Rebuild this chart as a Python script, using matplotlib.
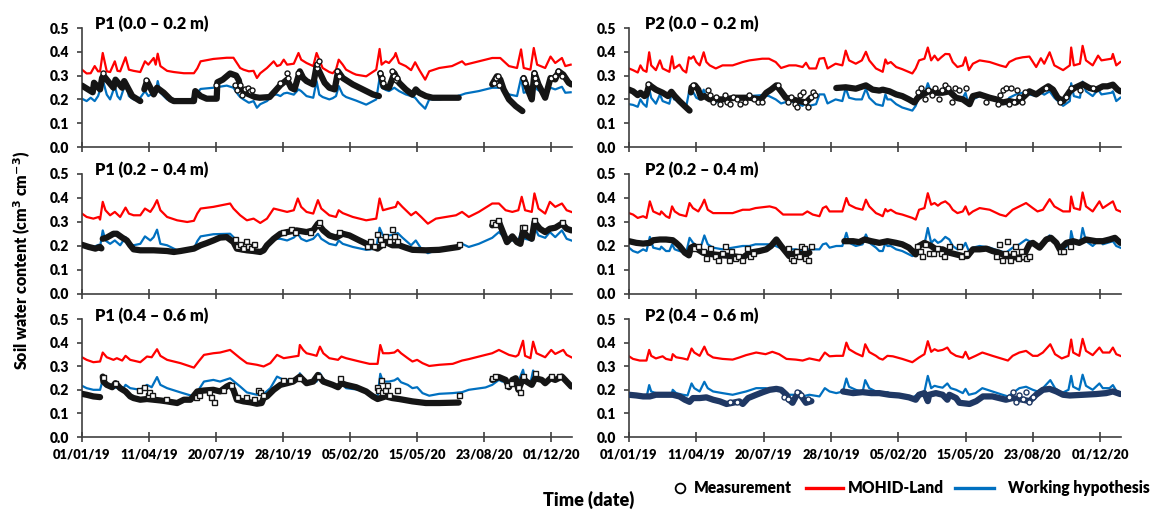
import numpy as np
import matplotlib
matplotlib.use("Agg")
import matplotlib.pyplot as plt
from matplotlib.lines import Line2D

plt.rcParams['font.family'] = ['Lato', 'DejaVu Sans']
plt.rcParams['font.weight'] = 'heavy'

nan = np.nan

# x axis: days since 01/01/19
tick_days = [0, 100, 200, 300, 400, 500, 600, 700]
tick_labels = ["01/01/19", "11/04/19", "20/07/19", "28/10/19",
               "05/02/20", "15/05/20", "23/08/20", "01/12/20"]
y_ticks = [0.0, 0.1, 0.2, 0.3, 0.4, 0.5]

titles = ["P1 (0.0 – 0.2 m)", "P1 (0.2 – 0.4 m)", "P1 (0.4 – 0.6 m)",
          "P2 (0.0 – 0.2 m)", "P2 (0.2 – 0.4 m)", "P2 (0.4 – 0.6 m)"]
legend_labels = ["Measurement", "MOHID-Land", "Working hypothesis"]

# ---------------- P1 0.0-0.2 m ----------------
p1a_day = [0, 7, 13, 19, 24, 27, 31, 37, 42, 49,
           53, 57, 65, 70, 77, 87, 94, 99, 107, 110,
           113, 117, 127, 137, 152, 162, 167, 172, 177, 196,
           216, 226, 233, 236, 241, 249, 256, 261, 266, 276,
           286, 291, 296, 301, 306, 316, 323, 327, 335, 345,
           350, 354, 359, 369, 374, 379, 383, 389, 394, 404,
           409, 424, 439, 444, 447, 453, 458, 466, 468, 473,
           483, 491, 497, 503, 512, 518, 533, 552, 567, 572,
           592, 612, 624, 637, 649, 655, 659, 669, 674, 679,
           691, 699, 706, 716, 721, 729]
p1a_mohid = [0.325, 0.309, 0.31, 0.34, 0.318, 0.318, 0.395, 0.318, 0.315, 0.36,
             0.32, 0.318, 0.377, 0.325, 0.32, 0.315, 0.36, 0.346, 0.374, 0.346,
             0.392, 0.34, 0.32, 0.315, 0.31, 0.31, 0.31, 0.33, 0.36, 0.37,
             0.375, 0.375, 0.345, 0.332, 0.325, 0.318, 0.32, 0.29, 0.31, 0.332,
             0.36, 0.34, 0.345, 0.367, 0.346, 0.35, 0.395, 0.367, 0.353, 0.34,
             0.395, 0.367, 0.332, 0.315, 0.31, 0.325, 0.367, 0.346, 0.325, 0.31,
             0.304, 0.297, 0.325, 0.412, 0.346, 0.36, 0.353, 0.38, 0.395, 0.353,
             0.34, 0.323, 0.356, 0.325, 0.283, 0.318, 0.332, 0.34, 0.36, 0.346,
             0.36, 0.374, 0.374, 0.34, 0.332, 0.41, 0.332, 0.325, 0.416, 0.346,
             0.332, 0.38, 0.353, 0.374, 0.34, 0.346]
p1a_hyp = [0.203, 0.193, 0.207, 0.193, 0.214, 0.24, 0.283, 0.22, 0.2, 0.256,
           0.214, 0.2, 0.27, 0.214, 0.2, 0.207, 0.235, 0.214, 0.228, 0.23,
           0.277, 0.228, 0.2, 0.193, 0.193, 0.2, 0.21, 0.228, 0.244, 0.249,
           0.258, 0.249, 0.22, 0.21, 0.2, 0.186, 0.193, 0.165, 0.18, 0.193,
           0.22, 0.22, 0.214, 0.225, 0.228, 0.22, 0.242, 0.235, 0.214, 0.207,
           0.277, 0.22, 0.21, 0.2, 0.205, 0.214, 0.256, 0.22, 0.21, 0.2,
           0.195, 0.178, 0.2, 0.29, 0.25, 0.24, 0.235, 0.249, 0.245, 0.235,
           0.221, 0.214, 0.207, 0.186, 0.161, 0.2, 0.2, 0.207, 0.22, 0.225,
           0.235, 0.249, 0.249, 0.221, 0.214, 0.29, 0.228, 0.235, 0.29, 0.242,
           0.221, 0.249, 0.242, 0.253, 0.228, 0.23]
p1a_obs_day = [0, 16, 18, 27, 30, 32, 47, 50, 60, 63,
               75, 87, 89, 93, 97, 107, 112, 122, 132, 137,
               157, 167, 169, 177, 186, 201, 202, 210, 221, 230,
               234, 236, 242, 250, 258, 265, 280, 288, 296, 306,
               312, 317, 325, 330, 335, 345, 350, 355, 362, 369,
               377, 382, 389, 404, 419, 434, 443, 444, 445, 450,
               458, 466, 473, 483, 493, 498, 503, 513, 523, 562,
               563, 612, 619, 624, 629, 637, 647, 657, 658, 659,
               664, 671, 675, 681, 691, 699, 706, 711, 718, 726,
               730]
p1a_obs = [0.258, 0.23, 0.27, 0.242, 0.29, 0.3, 0.249, 0.283, 0.249, 0.277,
           0.214, 0.193, nan, 0.242, 0.277, 0.221, 0.249, 0.228, 0.2, 0.193,
           0.193, 0.193, 0.235, 0.214, 0.203, 0.203, 0.272, 0.283, 0.309, 0.3,
           0.28, 0.25, 0.23, 0.22, 0.21, 0.207, 0.21, 0.235, 0.26, 0.283,
           0.249, 0.242, 0.318, 0.29, 0.277, 0.263, 0.34, 0.311, 0.27, 0.249,
           0.242, 0.318, 0.29, 0.263, 0.242, 0.221, 0.214, nan, 0.31, 0.254,
           0.249, 0.31, 0.27, 0.242, 0.22, 0.242, 0.228, 0.214, 0.207, 0.207,
           nan, 0.263, 0.297, 0.284, 0.242, 0.2, 0.172, 0.151, nan, 0.29,
           0.249, 0.2, 0.311, 0.263, 0.207, 0.29, 0.284, 0.318, 0.304, 0.27,
           0.263]
p1a_pts_day = [31, 96, 200, 228, 232, 236, 239, 243, 247, 250,
               254, 296, 306, 308, 322, 350, 351, 353, 381, 383,
               445, 447, 449, 462, 465, 468, 470, 614, 617, 620,
               622, 658, 661, 674, 676, 678, 700, 705, 710, 716]
p1a_pts = [0.31, 0.28, 0.26, 0.26, 0.24, 0.26, 0.22, 0.245, 0.25, 0.235,
           0.24, 0.27, 0.31, 0.29, 0.31, 0.33, 0.35, 0.36, 0.32, 0.3,
           0.31, 0.29, 0.27, 0.32, 0.3, 0.28, 0.29, 0.27, 0.29, 0.3,
           0.26, 0.29, 0.27, 0.31, 0.29, 0.27, 0.29, 0.3, 0.32, 0.3]

# ---------------- P1 0.2-0.4 m ----------------
p1b_day = [0, 7, 17, 25, 27, 31, 35, 42, 49, 57,
           65, 70, 77, 87, 94, 102, 107, 112, 117, 127,
           142, 157, 167, 172, 177, 196, 221, 226, 236, 246,
           256, 266, 276, 286, 296, 306, 316, 322, 327, 335,
           345, 352, 357, 369, 379, 383, 389, 404, 424, 439,
           444, 449, 458, 468, 471, 478, 491, 498, 506, 516,
           528, 543, 558, 567, 577, 592, 612, 622, 632, 642,
           651, 656, 661, 671, 675, 681, 691, 698, 706, 716,
           723, 730]
p1b_mohid = [0.335, 0.321, 0.314, 0.321, 0.31, 0.384, 0.349, 0.328, 0.342, 0.321,
             0.36, 0.335, 0.328, 0.328, 0.356, 0.342, 0.363, 0.391, 0.349, 0.321,
             0.307, 0.3, 0.305, 0.335, 0.356, 0.363, 0.377, 0.356, 0.328, 0.307,
             0.314, 0.296, 0.314, 0.356, 0.349, 0.342, 0.349, 0.398, 0.363, 0.342,
             0.335, 0.391, 0.356, 0.328, 0.321, 0.349, 0.337, 0.321, 0.307, 0.314,
             0.398, 0.349, 0.356, 0.363, 0.384, 0.363, 0.328, 0.342, 0.321, 0.293,
             0.314, 0.321, 0.328, 0.342, 0.321, 0.342, 0.377, 0.377, 0.349, 0.342,
             0.349, 0.405, 0.349, 0.342, 0.419, 0.356, 0.335, 0.384, 0.363, 0.377,
             0.349, 0.342]
p1b_hyp = [0.203, 0.203, 0.196, 0.205, 0.196, 0.265, 0.223, 0.209, 0.223, 0.203,
           0.237, 0.209, 0.203, 0.209, 0.24, 0.223, 0.237, 0.268, 0.209, 0.203,
           0.182, 0.179, 0.189, 0.22, 0.24, 0.249, 0.251, 0.237, 0.203, 0.189,
           0.182, 0.179, 0.203, 0.23, 0.23, 0.223, 0.235, 0.251, 0.23, 0.22,
           0.23, 0.251, 0.23, 0.209, 0.203, 0.223, 0.209, 0.196, 0.184, 0.189,
           0.276, 0.244, 0.244, 0.249, 0.254, 0.235, 0.203, 0.223, 0.189, 0.17,
           0.182, 0.184, 0.193, 0.209, 0.196, 0.209, 0.234, 0.258, 0.23, 0.223,
           0.223, 0.265, 0.23, 0.223, 0.279, 0.244, 0.234, 0.258, 0.237, 0.265,
           0.23, 0.223]
p1b_obs_day = [0, 10, 20, 27, 29, 30, 31, 37, 47, 52,
               60, 67, 72, 77, 87, 107, 127, 137, 147, 157,
               167, 177, 186, 196, 206, 216, 226, 231, 246, 256,
               266, 271, 276, 286, 296, 306, 320, 335, 345, 352,
               360, 369, 379, 389, 399, 414, 429, 441, 453, 463,
               473, 483, 493, 513, 533, 562, 563, 612, 622, 627,
               634, 642, 649, 654, 658, 663, 671, 675, 683, 691,
               698, 706, 716, 723, 730]
p1b_obs = [0.205, 0.196, 0.189, 0.196, 0.19, nan, 0.23, 0.235, 0.251, 0.251,
           0.235, 0.223, 0.203, 0.186, 0.182, 0.182, 0.179, 0.175, 0.179, 0.184,
           0.189, 0.203, 0.212, 0.223, 0.235, 0.237, 0.216, 0.189, 0.182, 0.179,
           0.175, 0.182, 0.203, 0.23, 0.251, 0.258, 0.265, 0.258, 0.265, 0.293,
           0.265, 0.244, 0.235, 0.251, 0.244, 0.223, 0.203, 0.189, 0.216, 0.203,
           0.203, 0.193, 0.184, 0.182, 0.184, 0.196, nan, 0.286, 0.3, 0.265,
           0.216, 0.24, 0.216, 0.209, 0.265, 0.244, 0.23, 0.3, 0.272, 0.258,
           0.272, 0.276, 0.293, 0.272, 0.265]
p1b_pts_day = [228, 232, 236, 240, 244, 248, 252, 256, 300, 312,
               318, 340, 352, 353, 383, 425, 430, 435, 440, 445,
               448, 452, 458, 462, 466, 470, 562, 612, 616, 620,
               656, 660, 675, 716]
p1b_pts = [0.23, 0.2, 0.21, 0.19, 0.22, 0.2, 0.19, 0.21, 0.26, 0.27,
           0.26, 0.26, 0.29, 0.3, 0.26, 0.2, 0.22, 0.2, 0.25, 0.23,
           0.21, 0.24, 0.22, 0.27, 0.24, 0.22, 0.21, 0.3, 0.29, 0.31,
           0.28, 0.28, 0.31, 0.3]

# ---------------- P1 0.4-0.6 m ----------------
p1c_day = [0, 7, 17, 27, 31, 37, 47, 52, 60, 65,
           72, 87, 97, 104, 112, 117, 127, 147, 167, 174,
           182, 196, 206, 221, 236, 246, 261, 271, 281, 291,
           301, 316, 323, 325, 330, 335, 345, 350, 355, 360,
           369, 382, 387, 394, 414, 429, 441, 445, 449, 458,
           466, 471, 476, 486, 493, 500, 508, 518, 533, 553,
           567, 577, 602, 612, 622, 627, 637, 647, 651, 658,
           661, 669, 673, 678, 691, 700, 706, 718, 723, 730]
p1c_mohid = [0.338, 0.327, 0.317, 0.32, 0.358, 0.338, 0.327, 0.334, 0.324, 0.344,
             0.327, 0.317, 0.341, 0.338, 0.372, 0.344, 0.327, 0.313, 0.294, 0.32,
             0.348, 0.355, 0.358, 0.369, 0.334, 0.313, 0.306, 0.299, 0.313, 0.348,
             0.334, 0.341, 0.344, 0.39, 0.369, 0.355, 0.348, 0.344, 0.383, 0.355,
             0.334, 0.327, 0.341, 0.334, 0.32, 0.31, 0.31, 0.39, 0.355, 0.355,
             0.358, 0.369, 0.355, 0.334, 0.32, 0.327, 0.313, 0.301, 0.306, 0.31,
             0.324, 0.33, 0.348, 0.355, 0.369, 0.362, 0.348, 0.341, 0.348, 0.408,
             0.344, 0.334, 0.404, 0.355, 0.338, 0.369, 0.352, 0.369, 0.348, 0.338]
p1c_hyp = [0.217, 0.207, 0.2, 0.2, 0.242, 0.214, 0.207, 0.21, 0.197, 0.221,
           0.207, 0.2, 0.221, 0.211, 0.254, 0.221, 0.207, 0.189, 0.172, 0.2,
           0.235, 0.242, 0.235, 0.249, 0.214, 0.189, 0.179, 0.182, 0.207, 0.256,
           0.242, 0.242, 0.245, 0.27, 0.25, 0.235, 0.235, 0.235, 0.27, 0.245,
           0.228, 0.214, 0.228, 0.207, 0.2, 0.186, 0.172, 0.268, 0.235, 0.235,
           0.24, 0.249, 0.232, 0.221, 0.207, 0.211, 0.186, 0.175, 0.183, 0.186,
           0.19, 0.2, 0.21, 0.221, 0.242, 0.235, 0.235, 0.235, 0.235, 0.285,
           0.242, 0.228, 0.282, 0.249, 0.228, 0.249, 0.242, 0.256, 0.23, 0.221]
p1c_obs_day = [0, 7, 17, 27, 29, 31, 32, 37, 45, 50,
               57, 65, 72, 77, 87, 97, 107, 117, 127, 142,
               152, 162, 172, 182, 196, 206, 216, 221, 226, 231,
               241, 251, 261, 268, 271, 276, 286, 296, 306, 315,
               325, 335, 345, 352, 360, 374, 382, 387, 394, 409,
               424, 434, 441, 453, 463, 473, 493, 513, 533, 562,
               563, 612, 622, 632, 637, 642, 647, 651, 658, 663,
               671, 676, 686, 691, 699, 706, 716, 723, 730]
p1c_obs = [0.183, 0.179, 0.172, 0.169, nan, 0.256, 0.235, 0.221, 0.211, 0.228,
           0.207, 0.193, 0.172, 0.165, 0.158, 0.161, 0.158, 0.155, 0.151, 0.144,
           0.158, 0.158, 0.193, 0.197, 0.2, 0.193, 0.214, 0.221, 0.2, 0.158,
           0.151, 0.147, 0.141, 0.144, 0.165, 0.172, 0.2, 0.221, 0.228, 0.235,
           0.256, 0.228, 0.235, 0.263, 0.235, 0.221, 0.211, 0.228, 0.221, 0.211,
           0.193, 0.172, 0.161, 0.172, 0.165, 0.161, 0.151, 0.144, 0.144, 0.146,
           nan, 0.242, 0.254, 0.242, 0.211, 0.242, 0.249, 0.2, 0.249, 0.235,
           0.221, 0.249, 0.242, 0.228, 0.249, 0.242, 0.256, 0.235, 0.214]
p1c_pts_day = [31, 50, 85, 92, 98, 100, 105, 125, 170, 175,
               190, 192, 197, 210, 222, 232, 245, 256, 262, 266,
               270, 300, 310, 324, 352, 385, 440, 442, 446, 448,
               452, 455, 458, 470, 562, 612, 616, 634, 640, 650,
               653, 658, 676, 700, 712]
p1c_pts = [0.256, 0.23, 0.2, 0.21, 0.18, 0.19, 0.18, 0.16, 0.17, 0.18,
           0.19, 0.17, 0.15, 0.2, 0.22, 0.17, 0.17, 0.16, 0.2, 0.19,
           0.18, 0.24, 0.24, 0.25, 0.26, 0.25, 0.21, 0.2, 0.24, 0.19,
           0.2, 0.22, 0.18, 0.2, 0.18, 0.25, 0.26, 0.22, 0.23, 0.21,
           0.19, 0.26, 0.27, 0.26, 0.26]

# ---------------- P2 0.0-0.2 m ----------------
p2a_day = [0, 6, 13, 17, 21, 26, 30, 33, 40, 46,
           50, 60, 64, 67, 75, 80, 85, 89, 92, 96,
           100, 105, 111, 115, 120, 129, 139, 154, 169, 179,
           198, 208, 218, 226, 238, 248, 258, 263, 268, 278,
           283, 290, 295, 307, 317, 322, 327, 337, 346, 352,
           357, 367, 377, 381, 384, 389, 397, 406, 421, 426,
           431, 439, 444, 449, 454, 459, 464, 470, 476, 481,
           488, 496, 500, 505, 511, 521, 536, 551, 560, 565,
           575, 585, 595, 605, 612, 617, 625, 632, 645, 655,
           657, 661, 670, 674, 679, 689, 697, 702, 717, 719,
           724, 730]
p2a_mohid = [0.33, 0.323, 0.313, 0.343, 0.323, 0.316, 0.398, 0.343, 0.323, 0.364,
             0.33, 0.316, 0.381, 0.33, 0.346, 0.323, 0.313, 0.377, 0.371, 0.381,
             0.357, 0.343, 0.398, 0.357, 0.343, 0.33, 0.343, 0.343, 0.357, 0.364,
             0.371, 0.371, 0.357, 0.332, 0.343, 0.343, 0.336, 0.354, 0.33, 0.33,
             0.371, 0.374, 0.33, 0.35, 0.343, 0.405, 0.364, 0.35, 0.364, 0.4,
             0.364, 0.33, 0.316, 0.368, 0.35, 0.357, 0.336, 0.327, 0.309, 0.33,
             0.364, 0.371, 0.418, 0.364, 0.384, 0.364, 0.377, 0.391, 0.39, 0.357,
             0.336, 0.343, 0.377, 0.323, 0.35, 0.364, 0.357, 0.343, 0.336, 0.357,
             0.371, 0.377, 0.38, 0.336, 0.373, 0.35, 0.398, 0.343, 0.323, 0.343,
             0.418, 0.343, 0.35, 0.425, 0.364, 0.343, 0.384, 0.364, 0.371, 0.391,
             0.343, 0.357]
p2a_hyp = [0.18, 0.177, 0.169, 0.2, 0.182, 0.169, 0.248, 0.207, 0.182, 0.221,
           0.193, 0.182, 0.234, 0.2, 0.2, 0.18, 0.169, 0.228, 0.221, 0.228,
           0.207, 0.2, 0.241, 0.207, 0.2, 0.187, 0.207, 0.207, 0.214, 0.214,
           0.218, 0.214, 0.2, 0.183, 0.193, 0.187, 0.173, 0.193, 0.173, 0.18,
           0.221, 0.221, 0.183, 0.2, 0.193, 0.248, 0.207, 0.2, 0.2, 0.245,
           0.207, 0.18, 0.173, 0.221, 0.2, 0.2, 0.18, 0.166, 0.153, 0.173,
           0.214, 0.221, 0.268, 0.228, 0.241, 0.221, 0.23, 0.255, 0.248, 0.221,
           0.2, 0.207, 0.228, 0.173, 0.2, 0.214, 0.207, 0.193, 0.18, 0.207,
           0.221, 0.228, 0.221, 0.214, 0.228, 0.22, 0.234, 0.207, 0.173, 0.193,
           0.268, 0.214, 0.207, 0.275, 0.234, 0.214, 0.241, 0.221, 0.228, 0.234,
           0.193, 0.207]
p2a_obs_day = [0, 6, 13, 17, 23, 26, 30, 33, 40, 50,
               58, 63, 68, 75, 85, 90, 91, 92, 93, 98,
               103, 107, 112, 120, 139, 159, 179, 196, 204, 211,
               219, 226, 233, 243, 253, 263, 270, 272, 308, 322,
               337, 352, 362, 372, 377, 387, 397, 406, 416, 424,
               429, 436, 446, 456, 466, 476, 486, 496, 506, 511,
               521, 536, 546, 555, 565, 575, 585, 595, 605, 615,
               623, 630, 637, 645, 655, 662, 674, 684, 694, 704,
               711, 719, 726, 730]
p2a_obs = [0.241, 0.234, 0.218, 0.228, 0.214, 0.22, 0.262, 0.255, 0.241, 0.228,
           0.214, 0.232, 0.214, 0.193, 0.166, 0.153, nan, 0.23, 0.251, 0.259,
           0.241, 0.207, 0.214, 0.2, 0.2, 0.207, 0.207, 0.2, 0.228, 0.241,
           0.259, 0.234, 0.207, 0.2, 0.193, 0.187, 0.207, nan, 0.248, 0.251,
           0.245, 0.259, 0.241, 0.237, 0.241, 0.234, 0.221, 0.214, 0.2, 0.187,
           0.207, 0.221, 0.234, 0.228, 0.228, 0.234, 0.207, 0.2, 0.18, 0.214,
           0.221, 0.207, 0.2, 0.187, 0.193, 0.187, 0.207, 0.234, 0.221, 0.241,
           0.255, 0.241, 0.207, 0.193, 0.234, 0.248, 0.264, 0.248, 0.241, 0.255,
           0.255, 0.262, 0.241, 0.234]
p2a_pts_day = [28, 95, 118, 120, 125, 130, 135, 142, 146, 150,
               155, 160, 165, 172, 178, 186, 192, 198, 222, 236,
               240, 246, 250, 254, 258, 262, 266, 270, 273, 276,
               430, 434, 440, 445, 450, 455, 460, 465, 470, 474,
               480, 485, 490, 500, 530, 548, 552, 556, 560, 564,
               568, 572, 576, 580, 584, 588, 620, 640, 650, 657,
               670, 690]
p2a_pts = [0.265, 0.26, 0.24, 0.22, 0.19, 0.21, 0.18, 0.22, 0.19, 0.18,
           0.21, 0.2, 0.18, 0.19, 0.22, 0.2, 0.19, 0.19, 0.26, 0.19,
           0.21, 0.18, 0.17, 0.22, 0.23, 0.19, 0.17, 0.21, 0.23, 0.22,
           0.23, 0.25, 0.2, 0.24, 0.22, 0.25, 0.2, 0.24, 0.26, 0.25,
           0.19, 0.25, 0.24, 0.25, 0.19, 0.18, 0.22, 0.24, 0.25, 0.18,
           0.25, 0.19, 0.24, 0.21, 0.19, 0.23, 0.25, 0.19, 0.21, 0.25,
           0.24, 0.25]

# ---------------- P2 0.2-0.4 m ----------------
p2b_day = [0, 6, 13, 21, 26, 31, 36, 46, 48, 55,
           60, 64, 68, 75, 85, 90, 95, 103, 108, 112,
           117, 125, 139, 154, 169, 179, 188, 209, 218, 229,
           248, 258, 265, 273, 283, 288, 293, 298, 308, 317,
           323, 327, 337, 347, 352, 357, 367, 372, 377, 381,
           384, 389, 397, 406, 421, 426, 431, 439, 444, 449,
           454, 459, 464, 470, 476, 481, 488, 496, 500, 505,
           511, 521, 536, 551, 560, 570, 580, 590, 600, 607,
           615, 625, 632, 645, 655, 657, 661, 670, 674, 679,
           689, 699, 704, 719, 724, 730]
p2b_mohid = [0.337, 0.331, 0.317, 0.324, 0.317, 0.386, 0.344, 0.331, 0.344, 0.324,
             0.317, 0.365, 0.344, 0.331, 0.324, 0.379, 0.358, 0.344, 0.368, 0.393,
             0.351, 0.337, 0.337, 0.337, 0.351, 0.351, 0.358, 0.365, 0.358, 0.331,
             0.331, 0.331, 0.344, 0.331, 0.324, 0.358, 0.365, 0.344, 0.344, 0.344,
             0.4, 0.372, 0.358, 0.351, 0.393, 0.365, 0.337, 0.331, 0.324, 0.354,
             0.344, 0.351, 0.337, 0.331, 0.317, 0.31, 0.351, 0.358, 0.42, 0.372,
             0.379, 0.368, 0.379, 0.386, 0.372, 0.351, 0.337, 0.344, 0.365, 0.331,
             0.344, 0.358, 0.351, 0.331, 0.324, 0.351, 0.365, 0.379, 0.358, 0.344,
             0.351, 0.395, 0.365, 0.344, 0.344, 0.406, 0.358, 0.351, 0.423, 0.365,
             0.344, 0.386, 0.358, 0.386, 0.351, 0.344]
p2b_hyp = [0.193, 0.179, 0.172, 0.186, 0.179, 0.238, 0.193, 0.186, 0.197, 0.179,
           0.179, 0.207, 0.186, 0.179, 0.172, 0.234, 0.214, 0.193, 0.207, 0.244,
           0.207, 0.193, 0.186, 0.193, 0.2, 0.2, 0.207, 0.207, 0.2, 0.186,
           0.186, 0.179, 0.186, 0.186, 0.186, 0.207, 0.211, 0.193, 0.2, 0.2,
           0.255, 0.214, 0.2, 0.207, 0.248, 0.214, 0.193, 0.179, 0.179, 0.213,
           0.2, 0.2, 0.186, 0.179, 0.158, 0.165, 0.2, 0.207, 0.275, 0.213,
           0.227, 0.213, 0.22, 0.238, 0.227, 0.2, 0.186, 0.193, 0.213, 0.179,
           0.193, 0.2, 0.193, 0.179, 0.172, 0.193, 0.207, 0.227, 0.213, 0.2,
           0.213, 0.244, 0.213, 0.186, 0.207, 0.262, 0.213, 0.207, 0.275, 0.22,
           0.2, 0.227, 0.207, 0.22, 0.2, 0.193]
p2b_obs_day = [0, 11, 21, 31, 36, 46, 55, 65, 70, 75,
               83, 89, 92, 97, 102, 110, 125, 139, 154, 169,
               179, 194, 204, 211, 219, 226, 234, 238, 248, 258,
               268, 270, 320, 333, 342, 350, 360, 372, 384, 397,
               406, 416, 426, 431, 439, 449, 456, 466, 476, 486,
               496, 503, 511, 521, 531, 540, 550, 560, 575, 585,
               595, 600, 610, 620, 627, 635, 640, 650, 660, 669,
               679, 694, 704, 714, 722, 730]
p2b_obs = [0.22, 0.213, 0.21, 0.213, 0.224, 0.227, 0.227, 0.224, 0.213, 0.2,
           0.172, 0.161, 0.193, 0.2, 0.186, 0.172, 0.165, 0.161, 0.158, 0.151,
           0.172, 0.179, 0.186, 0.2, 0.227, 0.2, 0.172, 0.158, 0.172, 0.165,
           0.172, nan, 0.22, 0.22, 0.216, 0.227, 0.22, 0.213, 0.22, 0.213,
           0.207, 0.193, 0.165, 0.2, 0.213, 0.2, 0.186, 0.186, 0.172, 0.165,
           0.158, 0.158, 0.186, 0.186, 0.189, 0.179, 0.172, 0.158, 0.152, 0.152,
           0.207, 0.213, 0.193, 0.227, 0.234, 0.213, 0.186, 0.213, 0.22, 0.213,
           0.227, 0.22, 0.22, 0.227, 0.234, 0.213]
p2b_pts_day = [97, 103, 110, 115, 120, 128, 132, 138, 142, 148,
               152, 158, 162, 168, 175, 180, 185, 236, 240, 244,
               248, 252, 256, 260, 262, 266, 270, 428, 432, 436,
               440, 446, 452, 458, 463, 468, 475, 490, 493, 500,
               545, 550, 554, 558, 562, 566, 570, 574, 578, 582,
               586, 590, 595, 640, 645, 655]
p2b_pts = [0.19, 0.2, 0.18, 0.15, 0.19, 0.16, 0.14, 0.17, 0.2, 0.14,
           0.18, 0.15, 0.16, 0.14, 0.19, 0.16, 0.17, 0.19, 0.15, 0.14,
           0.18, 0.16, 0.2, 0.19, 0.15, 0.14, 0.2, 0.2, 0.18, 0.16,
           0.21, 0.17, 0.17, 0.19, 0.17, 0.16, 0.2, 0.2, 0.16, 0.17,
           0.16, 0.21, 0.14, 0.17, 0.22, 0.14, 0.17, 0.2, 0.15, 0.18,
           0.16, 0.15, 0.16, 0.18, 0.18, 0.2]

# ---------------- P2 0.4-0.6 m ----------------
p2c_day = [0, 6, 16, 26, 30, 33, 40, 50, 55, 63,
           65, 70, 80, 87, 93, 97, 105, 112, 117, 125,
           139, 154, 164, 174, 189, 203, 213, 223, 234, 248,
           258, 268, 283, 291, 298, 308, 318, 323, 327, 337,
           347, 351, 357, 367, 372, 377, 384, 392, 406, 421,
           431, 439, 444, 449, 454, 459, 466, 473, 478, 486,
           496, 500, 505, 515, 525, 540, 555, 563, 570, 580,
           590, 600, 607, 615, 626, 633, 643, 653, 657, 660,
           669, 674, 679, 689, 699, 704, 714, 719, 724, 730]
p2c_mohid = [0.342, 0.331, 0.324, 0.324, 0.369, 0.344, 0.333, 0.342, 0.331, 0.326,
             0.351, 0.338, 0.333, 0.328, 0.375, 0.358, 0.344, 0.383, 0.351, 0.337,
             0.331, 0.328, 0.337, 0.347, 0.358, 0.351, 0.361, 0.351, 0.331, 0.328,
             0.324, 0.333, 0.324, 0.358, 0.342, 0.344, 0.344, 0.4, 0.372, 0.355,
             0.342, 0.393, 0.36, 0.344, 0.333, 0.328, 0.344, 0.342, 0.331, 0.317,
             0.337, 0.351, 0.406, 0.361, 0.372, 0.365, 0.369, 0.379, 0.358, 0.344,
             0.337, 0.361, 0.331, 0.344, 0.358, 0.344, 0.331, 0.324, 0.344, 0.358,
             0.365, 0.344, 0.344, 0.358, 0.393, 0.351, 0.333, 0.344, 0.413, 0.358,
             0.344, 0.416, 0.365, 0.347, 0.379, 0.358, 0.358, 0.379, 0.351, 0.344]
p2c_hyp = [0.179, 0.176, 0.172, 0.168, 0.22, 0.193, 0.186, 0.182, 0.179, 0.176,
           0.2, 0.186, 0.179, 0.176, 0.227, 0.207, 0.193, 0.234, 0.207, 0.193,
           0.186, 0.179, 0.186, 0.193, 0.207, 0.207, 0.2, 0.2, 0.179, 0.179,
           0.172, 0.179, 0.172, 0.207, 0.193, 0.186, 0.193, 0.248, 0.213, 0.2,
           0.19, 0.241, 0.207, 0.193, 0.19, 0.186, 0.19, 0.179, 0.176, 0.165,
           0.186, 0.193, 0.259, 0.207, 0.217, 0.213, 0.209, 0.227, 0.207, 0.2,
           0.186, 0.204, 0.179, 0.186, 0.207, 0.193, 0.179, 0.172, 0.186, 0.207,
           0.213, 0.2, 0.193, 0.207, 0.241, 0.207, 0.186, 0.2, 0.259, 0.213,
           0.2, 0.264, 0.217, 0.2, 0.227, 0.207, 0.207, 0.22, 0.196, 0.186]
p2c_obs_day = [0, 11, 21, 31, 40, 50, 65, 75, 83, 90,
               95, 105, 115, 125, 135, 145, 154, 164, 169, 177,
               189, 199, 209, 219, 226, 234, 238, 243, 248, 253,
               258, 263, 271, 273, 318, 333, 347, 360, 372, 387,
               401, 416, 426, 431, 439, 444, 446, 456, 466, 473,
               476, 486, 491, 506, 516, 526, 540, 550, 560, 570,
               585, 595, 600, 605, 615, 625, 635, 645, 655, 675,
               694, 709, 719, 730]
p2c_obs = [0.179, 0.176, 0.172, 0.172, 0.179, 0.179, 0.179, 0.172, 0.158, 0.149,
           0.165, 0.165, 0.168, 0.158, 0.151, 0.14, 0.145, 0.151, 0.14, 0.165,
           0.179, 0.19, 0.2, 0.204, 0.2, 0.179, 0.158, 0.145, 0.172, 0.186,
           0.165, 0.145, 0.152, nan, 0.193, 0.186, 0.19, 0.186, 0.186, 0.179,
           0.176, 0.168, 0.158, 0.179, 0.186, 0.152, 0.179, 0.186, 0.179, 0.158,
           0.179, 0.165, 0.145, 0.14, 0.152, 0.172, 0.172, 0.165, 0.158, 0.165,
           0.158, 0.152, 0.165, 0.179, 0.2, 0.204, 0.193, 0.179, 0.176, 0.179,
           0.182, 0.186, 0.193, 0.182]
p2c_pts_day = [150, 160, 230, 236, 250, 256, 266, 565, 570, 575,
               580, 585, 590, 595, 600]
p2c_pts = [0.15, 0.15, 0.17, 0.16, 0.19, 0.18, 0.16, 0.17, 0.19, 0.15,
           0.18, 0.16, 0.19, 0.15, 0.17]

# colours
red = "#FF0000"
blue = "#0070C0"
obs_black = "#151515"
obs_navy = "#1F3864"
axis_grey = "#404040"

panels = [
    (p1a_day, p1a_mohid, p1a_hyp, p1a_obs_day, p1a_obs, p1a_pts_day, p1a_pts, "o", obs_black),
    (p1b_day, p1b_mohid, p1b_hyp, p1b_obs_day, p1b_obs, p1b_pts_day, p1b_pts, "s", obs_black),
    (p1c_day, p1c_mohid, p1c_hyp, p1c_obs_day, p1c_obs, p1c_pts_day, p1c_pts, "s", obs_black),
    (p2a_day, p2a_mohid, p2a_hyp, p2a_obs_day, p2a_obs, p2a_pts_day, p2a_pts, "o", obs_black),
    (p2b_day, p2b_mohid, p2b_hyp, p2b_obs_day, p2b_obs, p2b_pts_day, p2b_pts, "s", obs_black),
    (p2c_day, p2c_mohid, p2c_hyp, p2c_obs_day, p2c_obs, p2c_pts_day, p2c_pts, "o", obs_navy),
]

fig = plt.figure(figsize=(11.56, 5.11), dpi=100)

lefts = [0.0709, 0.5441]
widths = [0.4239, 0.4256]
bottoms = [0.7123, 0.4247, 0.1448]
heights = [0.2329, 0.2348, 0.2309]

for i, panel in enumerate(panels):
    day, mohid, hyp, obs_day, obs, pts_day, pts, mk, obs_col = panel
    col = i // 3
    row = i % 3
    ax = fig.add_axes([lefts[col], bottoms[row], widths[col], heights[row]])

    ax.plot(day, mohid, color=red, lw=1.6, zorder=2)
    ax.plot(day, hyp, color=blue, lw=1.6, zorder=2)
    # dense daily measurements show up as a thick band
    ax.plot(obs_day, obs, color=obs_col, lw=4.5, solid_capstyle="round",
            solid_joinstyle="round", zorder=3)
    ax.plot(pts_day, pts, ls="", marker=mk, ms=3.6, mfc="white", mec=obs_col,
            mew=1.0, zorder=4)

    ax.set_xlim(0, 731)
    ax.set_ylim(0, 0.5)
    ax.set_yticks(y_ticks)
    ax.set_yticklabels(["%.1f" % v for v in y_ticks])
    ax.set_xticks(tick_days)
    if row == 2:
        ax.set_xticklabels(tick_labels)
    else:
        ax.set_xticklabels([])

    for s in ["top", "right"]:
        ax.spines[s].set_visible(False)
    for s in ["left", "bottom"]:
        ax.spines[s].set_color(axis_grey)
        ax.spines[s].set_linewidth(1.2)
    ax.tick_params(axis="x", direction="inout", length=7, width=1.2,
                   color=axis_grey, labelsize=9.4, pad=5)
    ax.tick_params(axis="y", direction="out", length=3.5, width=1.2,
                   color=axis_grey, labelsize=10, pad=6)

    ax.text(0.027 if col == 0 else 0.033, 1.03, titles[i], transform=ax.transAxes,
            fontsize=11.8, va="center", ha="left")

fig.text(0.019, 0.49, "Soil water content (cm$^{\\mathbf{3}}$ cm$^{\\mathbf{-3}}$)",
         rotation=90, ha="center", va="center", fontsize=11.5)
fig.text(0.509, 0.022, "Time (date)", ha="center", va="center", fontsize=13)

# legend row under the right column, placed by hand
leg_y = 0.045
fig.add_artist(Line2D([0.5882], [leg_y], transform=fig.transFigure, ls="",
                      marker="o", ms=7, mfc="white", mec="black", mew=1.3))
fig.add_artist(Line2D([0.6972, 0.7292], [leg_y, leg_y], transform=fig.transFigure,
                      color=red, lw=2.4))
fig.add_artist(Line2D([0.8261, 0.8599], [leg_y, leg_y], transform=fig.transFigure,
                      color=blue, lw=2.4))
for x, lab in zip([0.6003, 0.7336, 0.872], legend_labels):
    fig.text(x, leg_y, lab, ha="left", va="center", fontsize=11.2)

fig.savefig("out.png", dpi=100)
